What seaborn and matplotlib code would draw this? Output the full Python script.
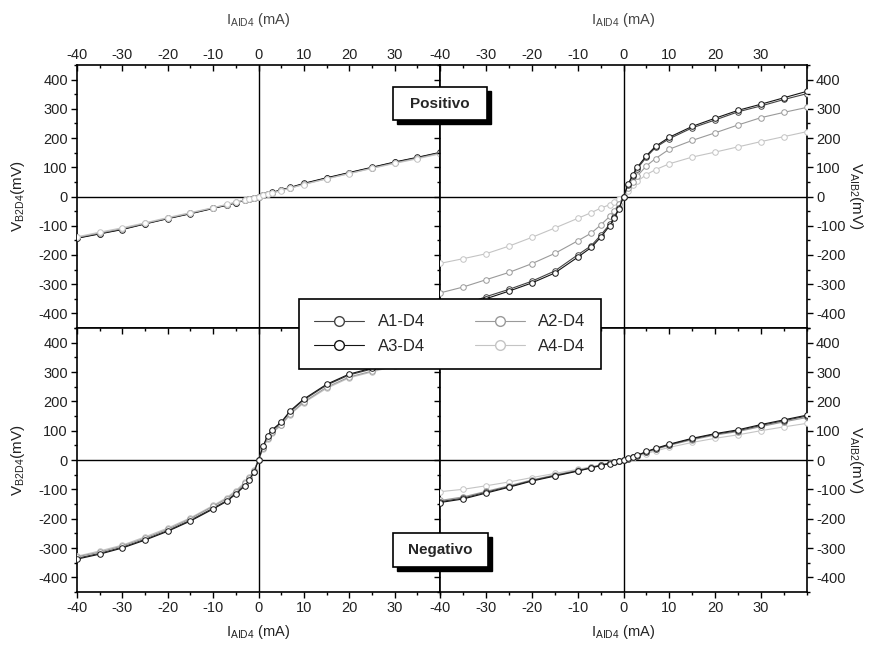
import matplotlib
matplotlib.use("Agg")
import matplotlib.pyplot as plt
from matplotlib.lines import Line2D
from matplotlib.patches import Rectangle
from matplotlib.ticker import FixedLocator, MultipleLocator
import pandas as pd
import seaborn as sns

sns.set_style("ticks")
plt.rcParams["font.family"] = ["Liberation Sans", "DejaVu Sans"]
plt.rcParams["mathtext.fontset"] = "custom"
plt.rcParams["mathtext.rm"] = "Liberation Sans"
plt.rcParams["mathtext.it"] = "Liberation Sans:italic"
plt.rcParams["axes.unicode_minus"] = False

# Current sweep (mA), shared by every curve
current = [-40, -35, -30, -25, -20, -15, -10, -7, -5, -3, -2, -1, 0,
           1, 2, 3, 5, 7, 10, 15, 20, 25, 30, 35, 40]

series = ["A1-D4", "A2-D4", "A3-D4", "A4-D4"]
colors = {"A1-D4": "#444444", "A2-D4": "#9a9a9a",
          "A3-D4": "#151515", "A4-D4": "#c4c4c4"}

# Positivo: V_B2D4 (mV)
pos_b2d4 = {
    "A1-D4": [-142, -127, -112, -93, -75, -58, -40, -29, -21, -13, -9, -4, 0,
              4, 9, 13, 22, 30, 44, 63, 81, 99, 117, 133, 150],
    "A2-D4": [-140, -125, -110, -92, -74, -57, -39, -28, -20, -12, -8, -4, 0,
              4, 8, 12, 21, 29, 42, 61, 79, 97, 115, 131, 148],
    "A3-D4": [-143, -128, -113, -94, -76, -59, -41, -30, -22, -13, -9, -5, 0,
              5, 9, 14, 23, 31, 45, 64, 82, 100, 118, 134, 151],
    "A4-D4": [-138, -122, -107, -90, -72, -55, -38, -27, -19, -12, -8, -4, 0,
              4, 8, 12, 20, 28, 41, 60, 78, 96, 113, 129, 146],
}

# Positivo: V_AIB2 (mV)
pos_aib2 = {
    "A1-D4": [-400, -372, -343, -318, -290, -255, -200, -168, -133, -95, -70, -40, 0,
              40, 70, 95, 135, 168, 198, 235, 262, 290, 310, 332, 352],
    "A2-D4": [-330, -310, -285, -260, -230, -195, -152, -125, -98, -68, -48, -25, 0,
              28, 50, 70, 105, 130, 162, 192, 218, 245, 270, 288, 305],
    "A3-D4": [-410, -380, -350, -324, -296, -262, -208, -174, -140, -100, -74, -43, 0,
              42, 74, 100, 140, 172, 203, 240, 268, 295, 316, 338, 360],
    "A4-D4": [-229, -213, -196, -170, -140, -108, -75, -55, -40, -28, -20, -10, 0,
              20, 38, 52, 75, 92, 112, 135, 152, 170, 188, 205, 222],
}

# Negativo: V_B2D4 (mV)
neg_b2d4 = {
    "A1-D4": [-335, -318, -297, -270, -240, -205, -164, -138, -113, -85, -65, -40, 0,
              45, 80, 100, 126, 165, 205, 255, 290, 310, 330, 348, 365],
    "A2-D4": [-330, -314, -293, -266, -236, -200, -158, -132, -108, -80, -60, -36, 0,
              40, 74, 95, 120, 158, 198, 248, 283, 303, 323, 341, 358],
    "A3-D4": [-338, -321, -300, -273, -243, -208, -167, -141, -116, -88, -67, -42, 0,
              47, 83, 103, 129, 168, 208, 258, 293, 313, 333, 351, 368],
    "A4-D4": [-328, -310, -290, -262, -232, -197, -155, -128, -104, -76, -57, -34, 0,
              38, 72, 92, 118, 155, 195, 244, 280, 300, 320, 338, 355],
}

# Negativo: V_AIB2 (mV)
neg_aib2 = {
    "A1-D4": [-142, -130, -110, -91, -70, -53, -37, -26, -18, -11, -7, -4, 0,
              5, 10, 15, 28, 38, 52, 72, 88, 100, 118, 134, 150],
    "A2-D4": [-138, -126, -107, -88, -68, -51, -35, -25, -17, -10, -7, -3, 0,
              5, 9, 14, 26, 36, 50, 69, 85, 97, 114, 130, 145],
    "A3-D4": [-145, -133, -113, -93, -72, -55, -38, -27, -19, -12, -8, -4, 0,
              6, 11, 16, 29, 40, 54, 74, 90, 103, 121, 137, 153],
    "A4-D4": [-108, -100, -88, -75, -60, -46, -32, -23, -16, -10, -6, -3, 0,
              4, 8, 12, 22, 31, 43, 60, 74, 86, 100, 113, 125],
}

W, H = 869, 649
fig = plt.figure(figsize=(W / 100, H / 100), dpi=100)


def fx(px):
    return px / W


def fy(py):
    return 1 - py / H


def add_axes(x0, x1, y0, y1):
    return fig.add_axes([fx(x0), fy(y1), fx(x1) - fx(x0), fy(y0) - fy(y1)])


ax_tl = add_axes(77, 440, 65, 328)
ax_tr = add_axes(440, 807, 65, 328)
ax_bl = add_axes(77, 440, 328, 592)
ax_br = add_axes(440, 807, 328, 592)

panels = [
    (ax_tl, pos_b2d4, ["A1-D4", "A3-D4", "A2-D4", "A4-D4"]),
    (ax_tr, pos_aib2, ["A4-D4", "A2-D4", "A1-D4", "A3-D4"]),
    (ax_bl, neg_b2d4, ["A4-D4", "A1-D4", "A2-D4", "A3-D4"]),
    (ax_br, neg_aib2, ["A4-D4", "A2-D4", "A1-D4", "A3-D4"]),
]

for ax, data, order in panels:
    for name in order:
        df = pd.DataFrame({"I": current, "V": data[name]})
        c = colors[name]
        sns.lineplot(data=df, x="I", y="V", ax=ax, color=c, lw=0.8,
                     marker="o", markersize=4, markerfacecolor="white",
                     markeredgecolor=c, markeredgewidth=0.7,
                     estimator=None, sort=False, legend=False, zorder=3)
    ax.axhline(0, color="black", lw=1.0, zorder=2)
    ax.axvline(0, color="black", lw=1.0, zorder=2)
    ax.set_xlim(-40, 40)
    ax.set_ylim(-450, 450)
    ax.set_xlabel("")
    ax.set_ylabel("")
    ax.xaxis.set_major_locator(FixedLocator([-40, -30, -20, -10, 0, 10, 20, 30]))
    ax.xaxis.set_minor_locator(MultipleLocator(5))
    ax.set_yticks([-400, -300, -200, -100, 0, 100, 200, 300, 400])
    ax.yaxis.set_minor_locator(MultipleLocator(50))
    for sp in ax.spines.values():
        sp.set_visible(True)
        sp.set_linewidth(1.2)
        sp.set_color("black")
    ax.tick_params(which="both", width=1.0, color="black",
                   labelsize=10.5, labelcolor="#222222", pad=2,
                   left=False, right=False, top=False, bottom=False,
                   labelleft=False, labelright=False, labeltop=False, labelbottom=False)
    ax.tick_params(which="major", length=4.5)
    ax.tick_params(which="minor", length=2.5)

# Outer left axes
for ax in (ax_tl, ax_bl):
    ax.tick_params(axis="y", which="both", left=True, labelleft=True, direction="out")
# Outer right axes and shared inner edge
for ax in (ax_tr, ax_br):
    ax.tick_params(axis="y", which="both", right=True, labelright=True, direction="out")
    ax.tick_params(axis="y", which="both", left=True, labelleft=False)
# Top scale on the upper panels
for ax in (ax_tl, ax_tr):
    ax.tick_params(axis="x", which="both", top=True, labeltop=True, direction="in")
# Bottom scale on the lower panels, inner ticks along the shared edge
for ax in (ax_bl, ax_br):
    ax.tick_params(axis="x", which="both", bottom=True, labelbottom=True,
                   top=True, labeltop=False, direction="out")
    for t in ax.xaxis.get_ticklines(minor=False)[1::2]:
        t.set_marker(matplotlib.lines.TICKDOWN)
    for t in ax.xaxis.get_ticklines(minor=True)[1::2]:
        t.set_marker(matplotlib.lines.TICKDOWN)

# Axis titles
xlab = r"I$_{\rm AID4}$ (mA)"
for cx in (258, 623):
    fig.text(fx(cx), fy(20), xlab, ha="center", va="center", fontsize=10.5, color="#444444")
    fig.text(fx(cx), fy(632), xlab, ha="center", va="center", fontsize=10.5, color="#222222")
for cy in (196, 460):
    fig.text(fx(18), fy(cy), r"V$_{\rm B2D4}$(mV)", ha="center", va="center",
             rotation=90, fontsize=11, color="#222222")
    fig.text(fx(856), fy(cy), r"V$_{\rm AIB2}$(mV)", ha="center", va="center",
             rotation=-90, fontsize=11, color="#222222")


# Labelled boxes with a drop shadow
def shadow_box(x0, y0, x1, y1, label):
    d = 4
    fig.add_artist(Rectangle((fx(x0 + d), fy(y1 + d)), fx(x1) - fx(x0), fy(y0) - fy(y1),
                             transform=fig.transFigure, facecolor="black",
                             edgecolor="black", zorder=6))
    fig.add_artist(Rectangle((fx(x0), fy(y1)), fx(x1) - fx(x0), fy(y0) - fy(y1),
                             transform=fig.transFigure, facecolor="white",
                             edgecolor="black", lw=1.2, zorder=7))
    fig.text(fx((x0 + x1) / 2), fy((y0 + y1) / 2), label, ha="center", va="center",
             fontsize=11, fontweight="bold", zorder=8)


shadow_box(393, 87, 487, 120, "Positivo")
shadow_box(393, 533, 488, 567, "Negativo")

# Legend
legend_order = ["A1-D4", "A3-D4", "A2-D4", "A4-D4"]
handles = [Line2D([], [], color=colors[n], lw=0.8, marker="o", markersize=7,
                  markerfacecolor="white", markeredgecolor=colors[n], markeredgewidth=1.0)
           for n in legend_order]
leg = fig.legend(handles, legend_order, loc="center",
                 bbox_to_anchor=(fx(450), fy(334)), ncol=2, fontsize=12,
                 frameon=True, fancybox=False, framealpha=1, edgecolor="black",
                 handlelength=3.0, columnspacing=3.0, borderpad=0.9,
                 labelspacing=0.55, handletextpad=0.8)
leg.get_frame().set_linewidth(1.2)
leg.set_zorder(9)

fig.savefig("out.png", dpi=100, facecolor="white")
